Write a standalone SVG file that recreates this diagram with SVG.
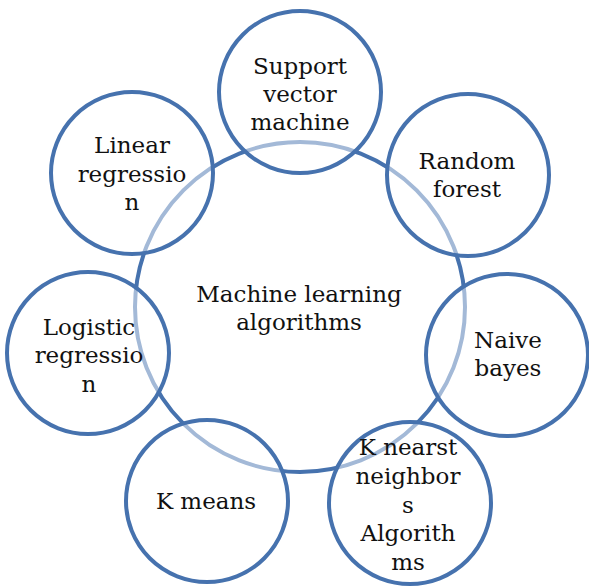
<svg xmlns="http://www.w3.org/2000/svg" width="589" height="586" viewBox="0 0 589 586">
  <style>
    .hub { fill: #ffffff; stroke: #4672ae; stroke-width: 4; }
    .sat { fill: #ffffff; fill-opacity: 0.5; stroke: #4672ae; stroke-width: 4; }
    .lbl { font-family: 'DejaVu Serif', serif; font-size: 23px; fill: #111111; text-anchor: middle; }
  </style>
  <rect width="589" height="586" fill="#ffffff"/>
  <g id="connectors"></g>
  <g id="center">
    <circle class="hub" cx="300" cy="307" r="165"/>
    <text class="lbl" x="299" y="302">Machine learning</text>
    <text class="lbl" x="299" y="330">algorithms</text>
  </g>
  <g id="svm">
    <circle class="sat" cx="300" cy="92" r="81"/>
    <text class="lbl" x="300" y="74">Support</text>
    <text class="lbl" x="300" y="102">vector</text>
    <text class="lbl" x="300" y="130">machine</text>
  </g>
  <g id="random-forest">
    <circle class="sat" cx="468" cy="175" r="81"/>
    <text class="lbl" x="467" y="169">Random</text>
    <text class="lbl" x="467" y="197">forest</text>
  </g>
  <g id="naive-bayes">
    <circle class="sat" cx="507" cy="355" r="81"/>
    <text class="lbl" x="508" y="348">Naive</text>
    <text class="lbl" x="508" y="376">bayes</text>
  </g>
  <g id="knn">
    <circle class="sat" cx="410" cy="503" r="81"/>
    <text class="lbl" x="408" y="455">K nearst</text>
    <text class="lbl" x="408" y="484">neighbor</text>
    <text class="lbl" x="408" y="513">s</text>
    <text class="lbl" x="408" y="541">Algorith</text>
    <text class="lbl" x="408" y="570">ms</text>
  </g>
  <g id="k-means">
    <circle class="sat" cx="207" cy="501" r="81"/>
    <text class="lbl" x="206" y="509">K means</text>
  </g>
  <g id="logistic-regression">
    <circle class="sat" cx="88" cy="353" r="81"/>
    <text class="lbl" x="89" y="335">Logistic</text>
    <text class="lbl" x="89" y="363">regressio</text>
    <text class="lbl" x="89" y="392">n</text>
  </g>
  <g id="linear-regression">
    <circle class="sat" cx="132" cy="173" r="81"/>
    <text class="lbl" x="132" y="153">Linear</text>
    <text class="lbl" x="132" y="182">regressio</text>
    <text class="lbl" x="132" y="210">n</text>
  </g>
</svg>
